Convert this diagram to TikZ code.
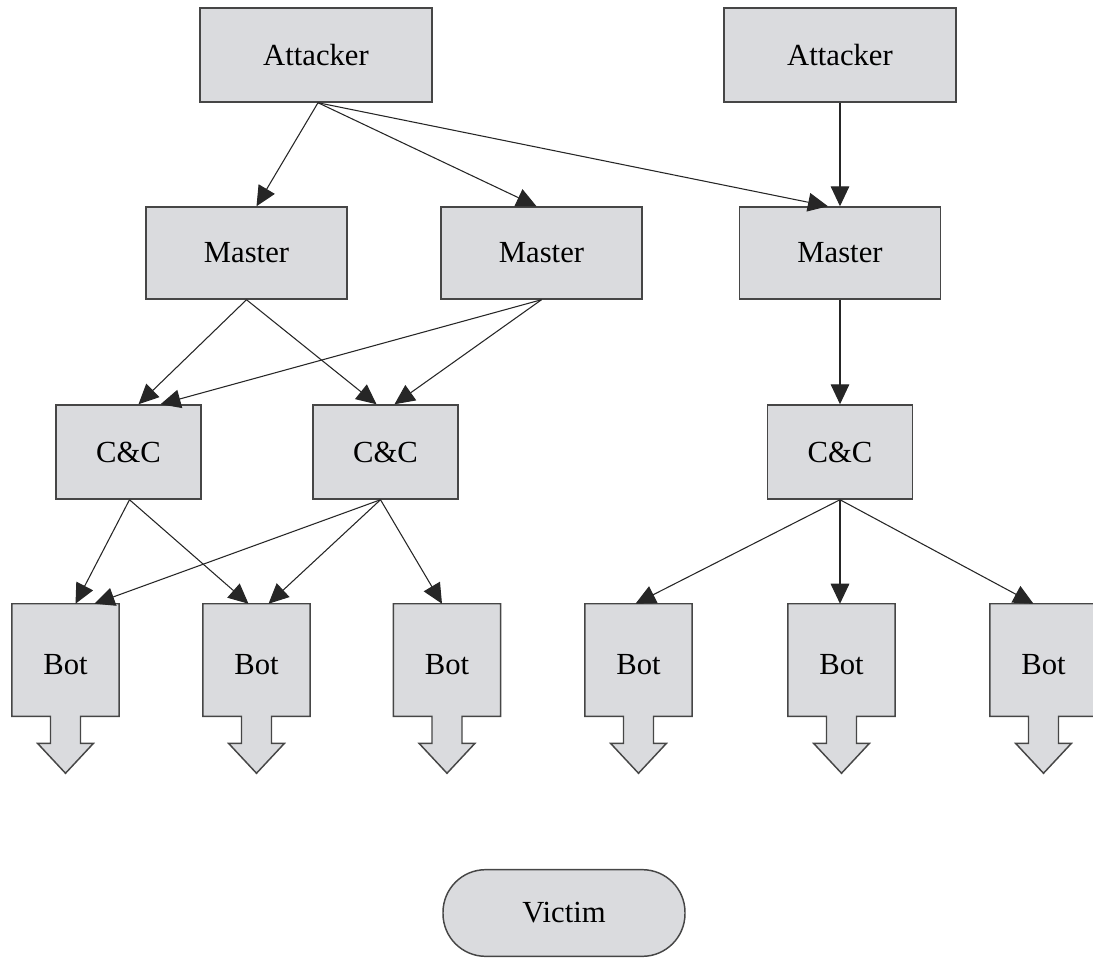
\documentclass[tikz,border=0pt]{standalone}
\usepackage{fontspec}
\setmainfont{Liberation Serif}
\usetikzlibrary{arrows.meta,calc}
\definecolor{boxfill}{RGB}{218,219,222}
\definecolor{boxline}{RGB}{70,70,70}
\begin{document}
\begin{tikzpicture}[x=0.75pt,y=-0.75pt,
  box/.style={draw=boxline,fill=boxfill,line width=1.1pt,inner sep=0pt,font=\fontsize{23}{27}\selectfont},
  attbox/.style={box,minimum width=174pt,minimum height=70.5pt},
  mastbox/.style={box,minimum width=151pt,minimum height=69pt},
  ccbox/.style={box,minimum width=109pt,minimum height=70.5pt},
  botbox/.style={draw=none,fill=none,inner sep=0pt,minimum width=80pt,minimum height=84pt},
  botshape/.style={draw=boxline,fill=boxfill,line width=1.1pt,line join=miter},
  bottext/.style={font=\fontsize{23}{27}\selectfont},
  edge/.style={draw=black!85,line width=0.8pt,-{Triangle[length=15pt,width=14pt]}}
]
\useasboundingbox (0,0) rectangle (1093,966);
% nodes
\node[attbox] (a1) at (316,55) {Attacker};
\node[attbox] (a2) at (840,55) {Attacker};
\node[mastbox] (m1) at (246.5,253) {Master};
\node[mastbox] (m2) at (541.5,253) {Master};
\node[mastbox] (m3) at (840,253) {Master};
\node[ccbox] (c1) at (128.5,452) {C\&C};
\node[ccbox] (c2) at (385.5,452) {C\&C};
\node[ccbox] (c3) at (840,452) {C\&C};
\foreach \n/\x in {b1/65.5,b2/256.5,b3/447,b4/638.5,b5/841.5,b6/1043.5}{
  \node[botbox] (\n) at (\x,660) {};
  \draw[botshape] (\n.north west) -- (\n.north east) -- (\n.south east)
    -- ($(\n.south)+(15,0)$) -- ($(\n.south)+(15,27)$) -- ($(\n.south)+(28,27)$)
    -- ($(\n.south)+(0,57)$) -- ($(\n.south)+(-28,27)$) -- ($(\n.south)+(-15,27)$)
    -- ($(\n.south)+(-15,0)$) -- (\n.south west) -- cycle;
  \node[bottext] at ($(\n.center)+(0,5)$) {Bot};
}
\node[box,rounded corners=32pt,minimum width=181.5pt,minimum height=65pt] (v) at (564,913) {Victim};
% edges
\coordinate (a1s) at ($(a1.south)+(2,0)$);
\draw[edge] (a1s) -- ($(m1.north)+(10,0)$);
\draw[edge] (a1s) -- ($(m2.north)+(-5,0)$);
\draw[edge] (a1s) -- ($(m3.north)+(-12,0)$);
\draw[edge] (a2.south) -- (m3.north);
\draw[edge] (m1.south) -- ($(c1.north)+(10,0)$);
\draw[edge] (m1.south) -- ($(c2.north)+(-9,0)$);
\draw[edge] (m2.south) -- ($(c1.north)+(32,0)$);
\draw[edge] (m2.south) -- ($(c2.north)+(9,0)$);
\draw[edge] (m3.south) -- (c3.north);
\coordinate (c1s) at ($(c1.south)+(1,0)$);
\coordinate (c2s) at ($(c2.south)+(-5,0)$);
\draw[edge] (c1s) -- ($(b1.north)+(10,0)$);
\draw[edge] (c1s) -- ($(b2.north)+(-8,0)$);
\draw[edge] (c2s) -- ($(b1.north)+(29,0)$);
\draw[edge] (c2s) -- ($(b2.north)+(12,0)$);
\draw[edge] (c2s) -- ($(b3.north)+(-5,0)$);
\draw[edge] (c3.south) -- ($(b4.north)+(-3,0)$);
\draw[edge] (c3.south) -- ($(b5.north)+(-1.5,0)$);
\draw[edge] (c3.south) -- ($(b6.north)+(-10,0)$);
\end{tikzpicture}
\end{document}
